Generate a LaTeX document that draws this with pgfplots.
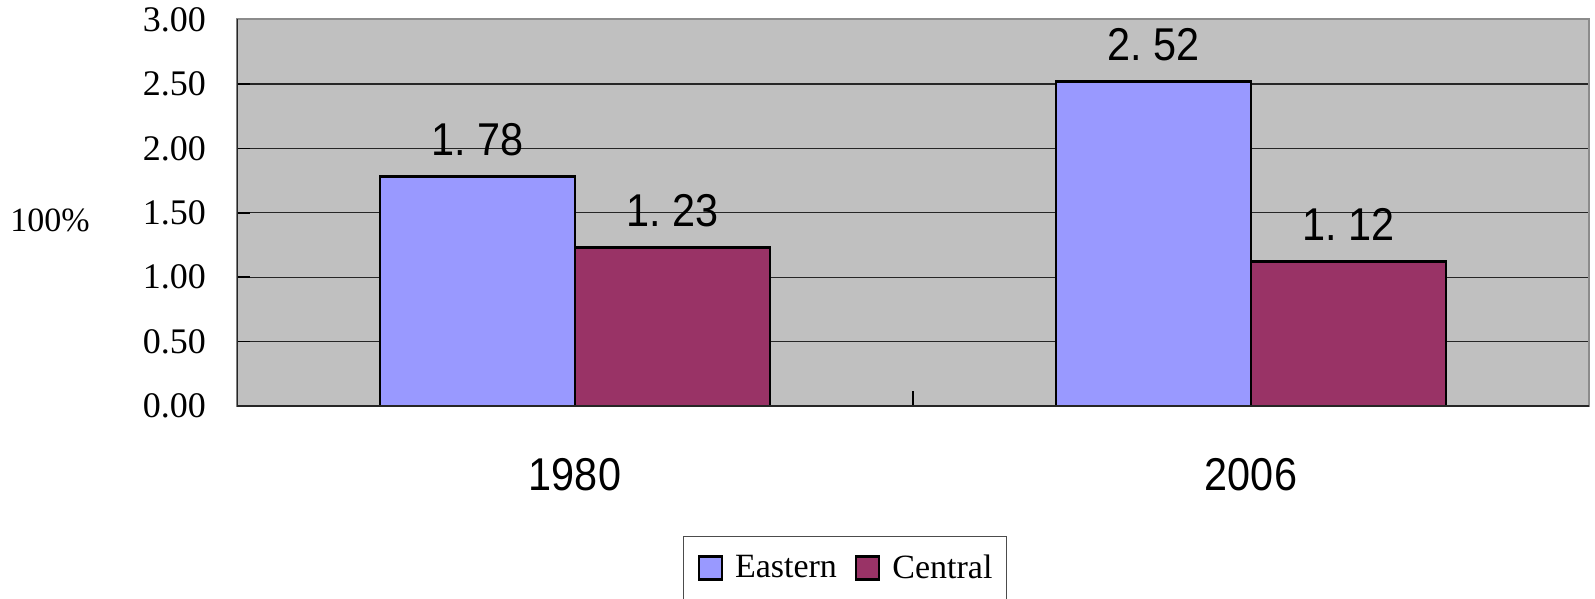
\documentclass[border=0pt]{standalone}
\usepackage{fontspec}
\setmainfont{Liberation Serif}
\newfontfamily\labfont[FakeStretch=0.9]{Liberation Sans}
\usepackage{pgfplots}
\pgfplotsset{compat=1.18}
\definecolor{eastern}{HTML}{9999FF}
\definecolor{central}{HTML}{993366}
\definecolor{plotbg}{HTML}{C0C0C0}
\newcommand{\lab}[2]{#1.\kern0.25em#2}
\begin{document}
\begin{tikzpicture}
\begin{axis}[
  at={(0pt,0pt)}, anchor=south west,
  scale only axis,
  width=676pt, height=193.25pt,
  xmin=-0.5, xmax=1.5,
  ymin=0, ymax=3,
  ybar=0pt, bar width=97.5pt,
  axis background/.style={fill=plotbg},
  axis line style={draw=black!45, line width=1pt},
  tick pos=left,
  tick align=inside,
  ytick={0,0.5,1,1.5,2,2.5,3},
  ymajorgrids,
  major grid style={black!85, line width=0.6pt},
  ytick style={black, line width=0.8pt},
  major tick length=6.5pt,
  /pgf/number format/assume math mode=true,
  yticklabel={\pgfmathprintnumber[fixed,fixed zerofill,precision=2]{\tick}},
  y tick label style={font=\fontsize{18pt}{21pt}\selectfont, anchor=east, xshift=-12pt},
  xtick={0,1},
  xticklabels={1980,2006},
  major x tick style={draw=none},
  minor xtick={0.5},
  minor x tick style={draw=black, line width=1pt},
  minor tick length=7.5pt,
  x tick label style={font=\fontsize{23pt}{26pt}\selectfont\labfont, anchor=base, yshift=-42pt},
  ylabel={100\%},
  every axis y label/.style={at={(axis description cs:-0.1383,0.481)}, anchor=center, font=\fontsize{17pt}{20pt}\selectfont},
  nodes near coords,
  point meta=explicit symbolic,
  every node near coord/.append style={anchor=base, yshift=10.5pt, font=\fontsize{23pt}{26pt}\selectfont\labfont, black},
  legend columns=2,
  legend image code/.code={\draw[#1, line width=1.2pt] (0pt,-5.75pt) rectangle (11.5pt,5.75pt);},
  legend style={
    at={(axis description cs:0.3299,-0.3364)}, anchor=north west,
    draw=black!70, line width=0.6pt, fill=white,
    inner xsep=7pt, inner ysep=9pt,
    font=\fontsize{17pt}{20pt}\selectfont,
    nodes={inner sep=0pt},
    /tikz/every odd column/.append style={column sep=6pt},
    /tikz/every even column/.append style={column sep=9pt},
  },
]
\addplot[fill=eastern, draw=black, line width=1.4pt] coordinates {(0,1.78) [\lab{1}{78}] (1,2.52) [\lab{2}{52}]};
\addplot[fill=central, draw=black, line width=1.4pt] coordinates {(0,1.23) [\lab{1}{23}] (1,1.12) [\lab{1}{12}]};
\legend{Eastern, Central}
\draw[black!85, line width=1.2pt] (rel axis cs:0,1) -- (rel axis cs:0,0) -- (rel axis cs:1,0);
\end{axis}
\pgfresetboundingbox
\useasboundingbox (-118.5pt,-96.5pt) rectangle (679pt,203pt);
\end{tikzpicture}
\end{document}
